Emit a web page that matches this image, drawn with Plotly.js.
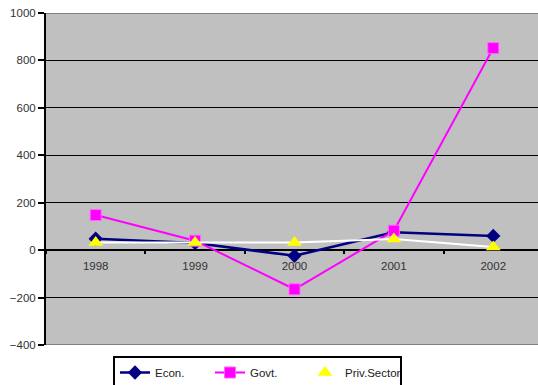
<!DOCTYPE html>
<html>
<head>
<meta charset="utf-8">
<script src="https://cdn.plot.ly/plotly-3.0.1.min.js"></script>
<style>html,body{margin:0;padding:0;background:#fff;}#chart{width:538px;height:385px;}</style>
</head>
<body>
<div id="chart"></div>
<script>
var years = ['1998', '1999', '2000', '2001', '2002'];
var econ = [48, 30, -24, 75, 60];
var govt = [148, 40, -165, 82, 852];
var privSector = [32, 32, 32, 47, 13];
var seriesNames = ['Econ.', 'Govt.', 'Priv.Sector'];
var yTicks = [-400, -200, 0, 200, 400, 600, 800, 1000];

var traces = [
  {x: years, y: econ, name: seriesNames[0], type: 'scatter', mode: 'lines+markers',
   line: {color: '#000080', width: 2.5},
   marker: {symbol: 'diamond', size: 11, color: '#000080'}},
  {x: years, y: govt, name: seriesNames[1], type: 'scatter', mode: 'lines+markers',
   line: {color: '#FF00FF', width: 2},
   marker: {symbol: 'square', size: 11, color: '#FF00FF', line: {color: '#FF66FF', width: 1}}},
  {x: years, y: privSector, name: seriesNames[2], type: 'scatter', mode: 'lines+markers',
   line: {color: '#FFFFFF', width: 2},
   marker: {symbol: 'triangle-up', size: 13, color: '#FFFF00'}}
];

var layout = {
  width: 538, height: 385,
  margin: {l: 46, r: 0, t: 13, b: 40, pad: 0, autoexpand: false},
  paper_bgcolor: '#FFFFFF',
  plot_bgcolor: '#C0C0C0',
  font: {family: 'Liberation Sans Narrow, Arial Narrow, sans-serif', size: 11.5, color: '#333333'},
  showlegend: true,
  xaxis: {
    type: 'category',
    range: [-0.5, 4.45],
    anchor: 'free',
    position: 400 / 1400,
    showgrid: false,
    showline: false,
    zeroline: false,
    tickson: 'boundaries',
    ticks: 'outside',
    ticklen: 3,
    tickwidth: 2,
    tickcolor: '#000000',
    ticklabelstandoff: 7,
    automargin: false,
    tickfont: {size: 11.5, color: '#333333'}
  },
  yaxis: {
    range: [-400, 1000],
    tickvals: yTicks,
    showgrid: true,
    gridcolor: '#000000',
    gridwidth: 1,
    zeroline: true,
    zerolinecolor: '#000000',
    zerolinewidth: 2,
    showline: true,
    linecolor: '#000000',
    linewidth: 2,
    ticks: 'outside',
    ticklen: 6,
    tickwidth: 2,
    tickcolor: '#000000',
    automargin: false,
    tickfont: {size: 11.5, color: '#333333'}
  },
  shapes: [
    {type: 'line', xref: 'paper', yref: 'y', x0: 0, x1: 1, y0: 1000, y1: 1000,
     line: {color: '#808080', width: 2}, layer: 'above'},
    {type: 'line', xref: 'paper', yref: 'y', x0: 0, x1: 1, y0: -400, y1: -400,
     line: {color: '#808080', width: 2}, layer: 'above'}
  ],
  legend: {
    orientation: 'h',
    x: (113 - 46) / 492, xanchor: 'left',
    y: -11 / 332, yanchor: 'top',
    bgcolor: '#FFFFFF',
    bordercolor: '#000000',
    borderwidth: 2,
    entrywidth: 50,
    font: {size: 11.5, color: '#222222'},
    traceorder: 'normal'
  }
};

Plotly.newPlot('chart', traces, layout, {displayModeBar: false, staticPlot: true});
</script>
</body>
</html>
